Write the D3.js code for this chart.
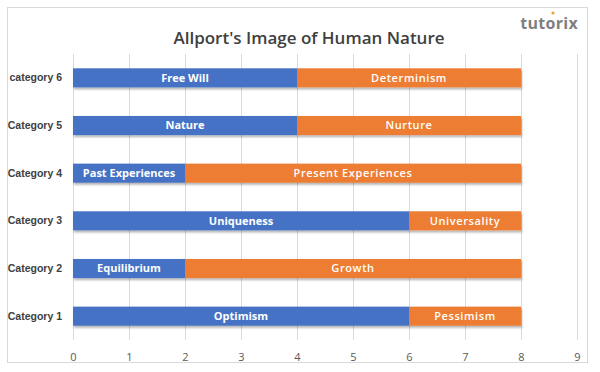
<!DOCTYPE html>
<html><head><meta charset="utf-8">
<script src="https://cdn.jsdelivr.net/npm/d3@7"></script>
<style>body{margin:0;background:#fff}svg{display:block;font-family:"Open Sans","Noto Sans",sans-serif}</style>
</head><body><svg id="c" width="600" height="372"></svg>
<script>
const categories = ["Category 1","Category 2","Category 3","Category 4","Category 5","category 6"];
const firstValues = [6,2,6,2,4,4];
const firstLabels = ["Optimism","Equilibrium","Uniqueness","Past Experiences","Nature","Free Will"];
const secondValues = [2,6,2,6,4,4];
const secondLabels = ["Pessimism","Growth","Universality","Present Experiences","Nurture","Determinism"];
const xTicks = [0,1,2,3,4,5,6,7,8,9];
const title = "Allport's Image of Human Nature";

const svg = d3.select("#c");
const defs = svg.append("defs");
const f = defs.append("filter").attr("id","sh").attr("x","-5%").attr("y","-30%").attr("width","110%").attr("height","180%");
f.append("feDropShadow").attr("dx",1).attr("dy",2).attr("stdDeviation",1.2).attr("flood-color","#000").attr("flood-opacity",0.3);

svg.append("rect").attr("x",7.5).attr("y",7.5).attr("width",580).attr("height",355)
  .attr("fill","#fff").attr("stroke","#d9d9d9");

const x = d3.scaleLinear().domain([0,9]).range([73,577]);
const y = d3.scaleBand().domain(categories.slice().reverse()).range([54,340]).paddingInner(0.6).paddingOuter(0.3);

svg.append("g").selectAll("line").data(xTicks).join("line")
  .attr("x1",d=>x(d)+0.5).attr("x2",d=>x(d)+0.5).attr("y1",54).attr("y2",340)
  .attr("stroke","#d9d9d9");

const xAxis = svg.append("g").attr("transform","translate(0,340)")
  .call(d3.axisBottom(x).tickValues(xTicks).tickFormat(d3.format("d")).tickSize(0).tickPadding(13));
xAxis.select(".domain").remove();
xAxis.selectAll("text").attr("fill","#595959").style("font-size","11px").style("font-family","'Open Sans',sans-serif");

const yAxis = svg.append("g").attr("transform","translate(62,0)")
  .call(d3.axisLeft(y).tickSize(0).tickPadding(0));
yAxis.select(".domain").remove();
yAxis.selectAll("text").attr("fill","#404040").style("font-size","10.5px").style("font-weight","600");

const rows = categories.map((c,i)=>({c, a:firstValues[i], b:secondValues[i], la:firstLabels[i], lb:secondLabels[i]}));
const g = svg.append("g");
rows.forEach(r=>{
  const yy = y(r.c), h = y.bandwidth();
  const grp = g.append("g").attr("filter","url(#sh)");
  grp.append("rect").attr("x",x(0)).attr("y",yy).attr("width",x(r.a)-x(0)).attr("height",h).attr("fill","#4472c4");
  grp.append("rect").attr("x",x(r.a)).attr("y",yy).attr("width",x(r.a+r.b)-x(r.a)).attr("height",h).attr("fill","#ed7d31");
  g.append("text").attr("x",(x(0)+x(r.a))/2).attr("y",yy+h/2).attr("dy","0.35em").attr("text-anchor","middle")
    .attr("fill","#fff").style("font-size","11px").style("font-weight","700").text(r.la);
  g.append("text").attr("x",(x(r.a)+x(r.a+r.b))/2).attr("y",yy+h/2).attr("dy","0.35em").attr("text-anchor","middle")
    .attr("fill","#fff").style("font-size","11px").style("font-weight","600").style("letter-spacing","0.6px").text(r.lb);
});

svg.append("text").attr("x",309).attr("y",44).attr("text-anchor","middle").attr("fill","#404040")
  .style("font-size","17px").style("font-weight","600").text(title);

const logo = svg.append("text").attr("x",578).attr("y",29).attr("text-anchor","end").attr("fill","#7f7f7f")
  .style("font-size","16px").style("font-weight","700").style("letter-spacing","0.3px");
logo.append("tspan").text("tutorix");
svg.append("circle").attr("cx",553).attr("cy",13).attr("r",1.6).attr("fill","#f0a030");
</script></body></html>
